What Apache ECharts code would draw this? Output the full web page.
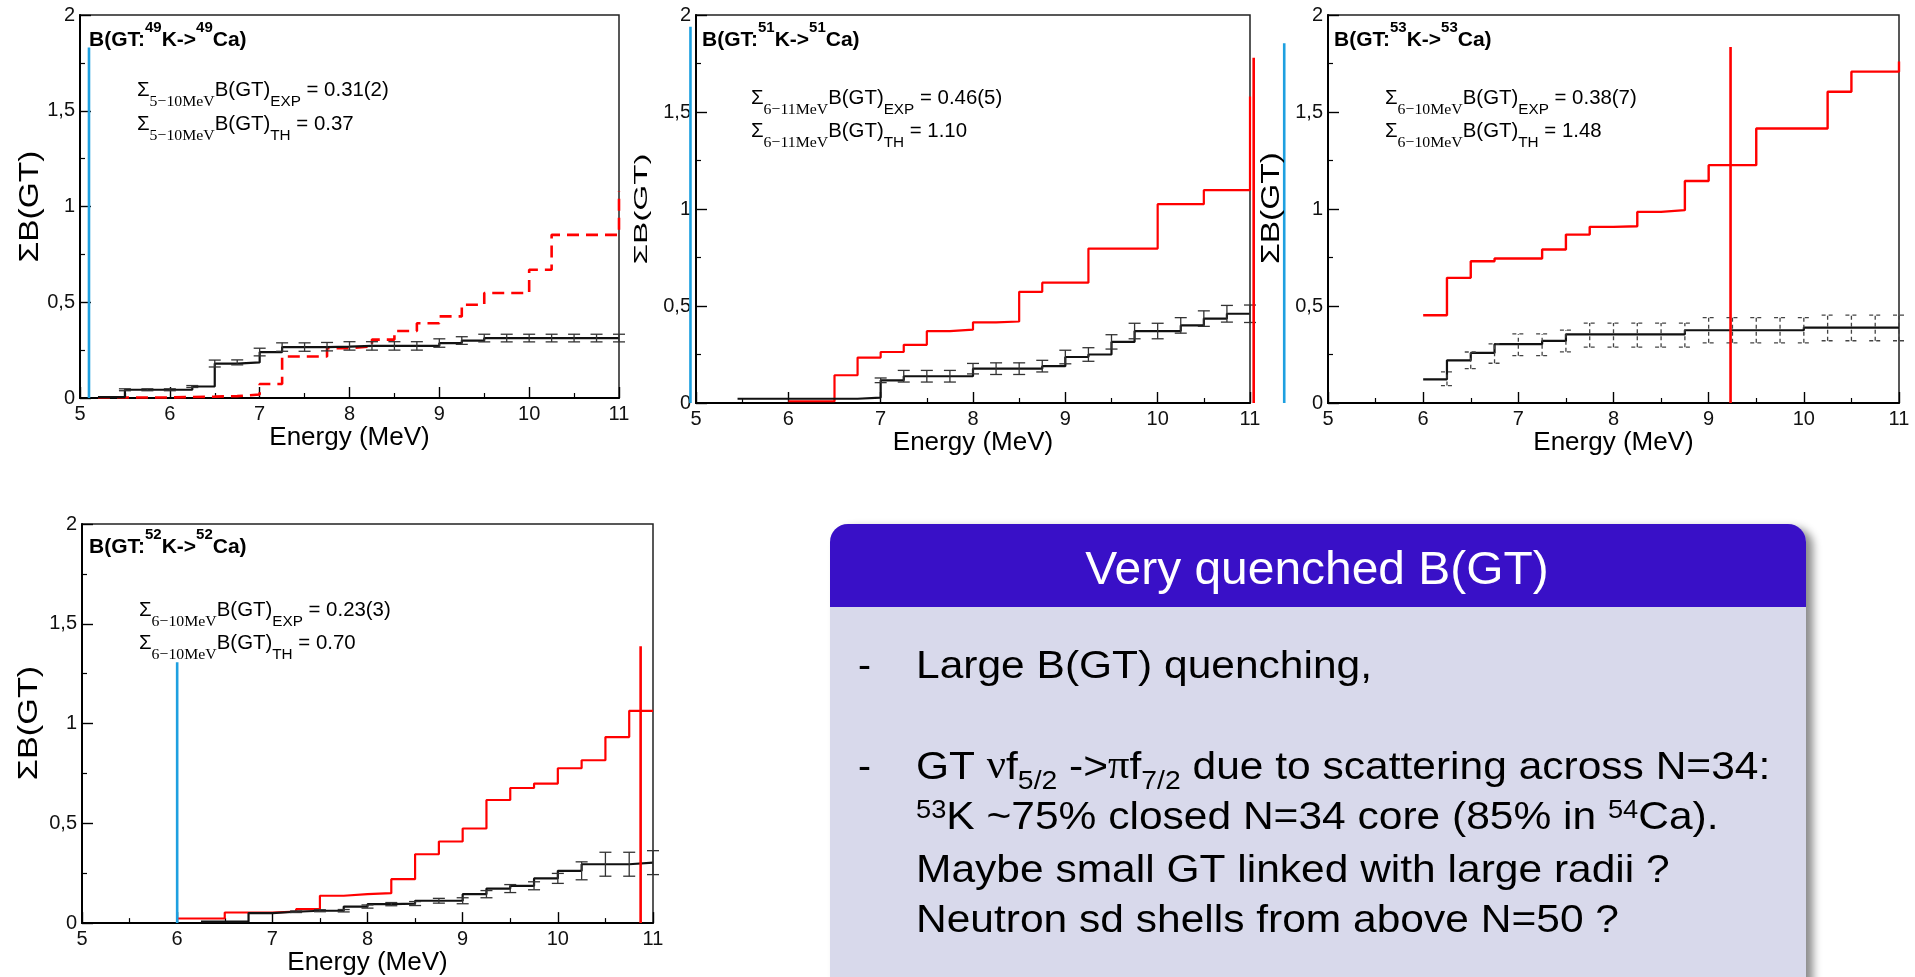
<!DOCTYPE html>
<html><head><meta charset="utf-8">
<script src="https://cdn.jsdelivr.net/npm/echarts@6/dist/echarts.min.js"></script>
<style>html,body{margin:0;padding:0;background:#fff;overflow:hidden}#c{width:1915px;height:977px}</style>
</head><body><div id="c"></div>
<script>
// ---------- data ----------
const yTickLabels = ['0', '0,5', '1', '1,5', '2'];

// 49K -> 49Ca
const p1E   = [5.2, 5.5, 5.75, 6.0, 6.25, 6.5, 6.75, 7.0, 7.25, 7.5, 7.75, 8.0, 8.25, 8.5, 8.75, 9.0, 9.25, 9.5, 9.75, 10.0, 10.25, 10.5, 10.75, 11.0];
const p1Exp = [0.005, 0.043, 0.043, 0.043, 0.06, 0.18, 0.186, 0.24, 0.266, 0.266, 0.268, 0.272, 0.272, 0.272, 0.272, 0.287, 0.30, 0.313, 0.313, 0.313, 0.313, 0.313, 0.313, 0.313];
const p1Err = [0, 0.005, 0.005, 0.005, 0.005, 0.018, 0.013, 0.02, 0.022, 0.022, 0.022, 0.022, 0.022, 0.022, 0.022, 0.022, 0.02, 0.02, 0.02, 0.02, 0.02, 0.02, 0.02, 0.02];
const p1Th  = [0.003, 0.003, 0.003, 0.005, 0.007, 0.01, 0.018, 0.073, 0.217, 0.217, 0.26, 0.27, 0.305, 0.35, 0.39, 0.426, 0.487, 0.548, 0.548, 0.67, 0.852, 0.852, 0.852, 1.08];

// 51K -> 51Ca
const p2E   = [5.45, 5.75, 6.0, 6.25, 6.5, 6.75, 7.0, 7.25, 7.5, 7.75, 8.0, 8.25, 8.5, 8.75, 9.0, 9.25, 9.5, 9.75, 10.0, 10.25, 10.5, 10.75, 11.0];
const p2Exp = [0.022, 0.022, 0.022, 0.022, 0.022, 0.028, 0.117, 0.138, 0.138, 0.138, 0.177, 0.177, 0.177, 0.19, 0.237, 0.25, 0.315, 0.371, 0.371, 0.40, 0.435, 0.46, 0.46];
const p2Err = [0, 0, 0, 0, 0, 0, 0.012, 0.03, 0.03, 0.03, 0.027, 0.03, 0.03, 0.03, 0.035, 0.035, 0.037, 0.04, 0.04, 0.04, 0.04, 0.043, 0.045];
const p2Th  = [null, null, 0.009, 0.009, 0.143, 0.234, 0.263, 0.30, 0.37, 0.378, 0.416, 0.42, 0.573, 0.62, 0.62, 0.796, 0.796, 0.796, 1.025, 1.025, 1.097, 1.097, 1.58];

// 53K -> 53Ca
const p3E   = [6.0, 6.25, 6.5, 6.75, 7.0, 7.25, 7.5, 7.75, 8.0, 8.25, 8.5, 8.75, 9.0, 9.25, 9.5, 9.75, 10.0, 10.25, 10.5, 10.75, 11.0];
const p3Exp = [0.122, 0.22, 0.258, 0.303, 0.303, 0.32, 0.354, 0.354, 0.354, 0.354, 0.354, 0.375, 0.375, 0.375, 0.375, 0.375, 0.389, 0.389, 0.389, 0.389, 0.389];
const p3Th  = [0.452, 0.645, 0.731, 0.745, 0.745, 0.791, 0.868, 0.908, 0.911, 0.985, 0.994, 1.144, 1.226, 1.226, 1.415, 1.415, 1.415, 1.604, 1.708, 1.708, 1.76];
const p3ErrE    = [6.25, 6.5, 6.75, 7.0, 7.25, 7.5, 7.75, 8.0, 8.25, 8.5, 8.75, 9.0, 9.25, 9.5, 9.75, 10.0, 10.25, 10.5, 10.75, 11.0];
const p3ErrMid  = [0.125, 0.22, 0.255, 0.30, 0.30, 0.32, 0.35, 0.35, 0.35, 0.35, 0.35, 0.375, 0.375, 0.375, 0.375, 0.375, 0.387, 0.387, 0.387, 0.387];
const p3ErrHalf = [0.035, 0.043, 0.05, 0.056, 0.056, 0.056, 0.062, 0.062, 0.062, 0.062, 0.062, 0.065, 0.065, 0.065, 0.065, 0.065, 0.066, 0.066, 0.066, 0.066];

// 52K -> 52Ca
const p4E   = [6.0, 6.25, 6.5, 6.75, 7.0, 7.25, 7.5, 7.75, 8.0, 8.25, 8.5, 8.75, 9.0, 9.25, 9.5, 9.75, 10.0, 10.25, 10.5, 10.75, 11.0];
const p4Exp = [null, 0.007, 0.007, 0.05, 0.057, 0.062, 0.062, 0.083, 0.095, 0.098, 0.112, 0.112, 0.145, 0.173, 0.187, 0.224, 0.262, 0.295, 0.295, 0.303, 0.303];
const p4Th  = [0.023, 0.023, 0.053, 0.053, 0.058, 0.07, 0.137, 0.145, 0.15, 0.22, 0.345, 0.409, 0.474, 0.617, 0.677, 0.699, 0.776, 0.816, 0.932, 1.064, 1.064];
const p4ErrE    = [7.25, 7.5, 7.75, 8.0, 8.25, 8.5, 8.75, 9.0, 9.25, 9.5, 9.75, 10.0, 10.25, 10.5, 10.75, 11.0];
const p4ErrMid  = [0.057, 0.062, 0.062, 0.083, 0.095, 0.098, 0.112, 0.112, 0.145, 0.173, 0.187, 0.224, 0.262, 0.295, 0.295, 0.303];
const p4ErrHalf = [0.004, 0.005, 0.006, 0.008, 0.008, 0.01, 0.012, 0.015, 0.018, 0.02, 0.02, 0.025, 0.045, 0.06, 0.06, 0.06];

// vertical marker lines (panel order 49, 51, 53, 52)
const blueX   = [5.1, 4.94, 4.54, 6.0];
const blueTop = [1.83, 1.94, 1.855, 1.307];
const redX    = [null, 11.04, 9.23, 10.87];
const redTop  = [null, 1.78, 1.835, 1.387];

// ---------- build ----------
const FONT = 'Liberation Sans, Arial, sans-serif';
const SERIF = 'Liberation Serif, Times New Roman, serif';
const grids = [
  {left: 80, top: 15, width: 539, height: 383},
  {left: 696, top: 15, width: 554, height: 388},
  {left: 1328, top: 15, width: 571, height: 388},
  {left: 82, top: 524, width: 571, height: 400}
];
// y-axis name placement: [centerX, centerY, fontSize, stretch]
const yNames = [[30.5, 206.5, 27, 1.24], [642, 209, 19, 1.75], [1272.5, 208, 25, 1.34], [29.5, 723, 27, 1.27]];

function pairs(E, V) { return E.map((e, i) => [e, V[i]]).filter(d => d[1] != null); }
function bars(E, M, H) { return E.map((e, i) => [e, M[i] - H[i], M[i] + H[i], H[i]]).filter(d => d[3] > 0); }

function errRender(dashed) {
  return function (params, api) {
    const x = api.value(0), lo = api.value(1), hi = api.value(2);
    const a = api.coord([x, lo]), b = api.coord([x, hi]);
    const w = 6;
    const st = {stroke: dashed ? '#444' : '#333', lineWidth: 1.3, lineDash: dashed ? [4, 3] : null, fill: null};
    return {type: 'group', children: [
      {type: 'line', shape: {x1: a[0], y1: a[1], x2: b[0], y2: b[1]}, style: st},
      {type: 'line', shape: {x1: a[0] - w, y1: a[1], x2: a[0] + w, y2: a[1]}, style: st},
      {type: 'line', shape: {x1: b[0] - w, y1: b[1], x2: b[0] + w, y2: b[1]}, style: st}
    ]};
  };
}
function vlineRender(color) {
  return function (params, api) {
    const x = api.value(0), top = api.value(1);
    const a = api.coord([x, 0]), b = api.coord([x, top]);
    return {type: 'line', shape: {x1: a[0], y1: a[1], x2: b[0], y2: b[1]},
      style: {stroke: color, lineWidth: 2.6, fill: null}};
  };
}

const xAxes = grids.map((g, i) => ({
  type: 'value', gridIndex: i, min: 5, max: 11, interval: 1,
  axisLine: {show: true, onZero: false, lineStyle: {color: '#000', width: 2}},
  axisTick: {show: true, inside: true, length: 11, lineStyle: {color: '#000', width: 1.4}},
  minorTick: {show: true, splitNumber: 2, length: 5, lineStyle: {color: '#000', width: 1.2}},
  splitLine: {show: false},
  axisLabel: {fontSize: 20, color: '#111', margin: 6, fontFamily: FONT},
  name: 'Energy (MeV)', nameLocation: 'middle', nameGap: 25,
  nameTextStyle: {fontSize: 26, color: '#000', fontFamily: FONT}
}));
const yAxes = grids.map((g, i) => ({
  type: 'value', gridIndex: i, min: 0, max: 2, interval: 0.5,
  axisLine: {show: true, onZero: false, lineStyle: {color: '#000', width: 2}},
  axisTick: {show: true, inside: true, length: 11, lineStyle: {color: '#000', width: 1.4}},
  minorTick: {show: true, splitNumber: 2, length: 5, lineStyle: {color: '#000', width: 1.2}},
  splitLine: {show: false},
  axisLabel: {fontSize: 20, color: '#111', margin: 5, fontFamily: FONT,
    formatter: v => yTickLabels[Math.round(v / 0.5)]}
}));

const series = [];
function stepLine(i, data, color, dashed, w) {
  series.push({type: 'line', xAxisIndex: i, yAxisIndex: i, data: data, step: 'end',
    symbol: 'none', silent: true, animation: false, z: 3,
    lineStyle: {color: color, width: w, type: dashed ? [12, 7] : 'solid', cap: 'butt'}});
}
function errSeries(i, data, dashed) {
  series.push({type: 'custom', xAxisIndex: i, yAxisIndex: i, coordinateSystem: 'cartesian2d',
    data: data, encode: {x: 0, y: [1, 2]}, renderItem: errRender(dashed), silent: true,
    animation: false, z: 4, clip: false});
}
function vline(i, x, top, color) {
  if (x == null) return;
  series.push({type: 'custom', xAxisIndex: i, yAxisIndex: i, coordinateSystem: 'cartesian2d',
    data: [[x, top]], encode: {x: 0, y: 1}, renderItem: vlineRender(color),
    silent: true, animation: false, clip: false, z: 6});
}

stepLine(0, pairs(p1E, p1Th), '#FF0000', true, 2.6);
stepLine(0, pairs(p1E, p1Exp), '#111', false, 2.2);
errSeries(0, bars(p1E, p1Exp, p1Err), false);

stepLine(1, pairs(p2E, p2Th), '#FF0000', false, 2.2);
stepLine(1, pairs(p2E, p2Exp), '#111', false, 2.2);
errSeries(1, bars(p2E, p2Exp, p2Err), false);

stepLine(2, pairs(p3E, p3Th), '#FF0000', false, 2.4);
stepLine(2, pairs(p3E, p3Exp), '#111', false, 2.2);
errSeries(2, bars(p3ErrE, p3ErrMid, p3ErrHalf), true);

stepLine(3, pairs(p4E, p4Th), '#FF0000', false, 2.2);
stepLine(3, pairs(p4E, p4Exp), '#111', false, 2.2);
errSeries(3, bars(p4ErrE, p4ErrMid, p4ErrHalf), false);

for (let i = 0; i < 4; i++) { vline(i, blueX[i], blueTop[i], '#1EA0E0'); vline(i, redX[i], redTop[i], '#FF0000'); }

// ---------- texts ----------
const titleRich = {
  m: {fontSize: 21, fontWeight: 'bold', fontFamily: FONT, fill: '#000', lineHeight: 30, verticalAlign: 'middle'},
  s: {fontSize: 15, fontWeight: 'bold', fontFamily: FONT, fill: '#000', lineHeight: 30, verticalAlign: 'middle', padding: [0, 0, 24, 0]}
};
const annRich = {
  m: {fontSize: 20, fontFamily: FONT, fill: '#000', lineHeight: 30, verticalAlign: 'middle'},
  t: {fontSize: 15.5, fontFamily: SERIF, fill: '#000', lineHeight: 30, verticalAlign: 'middle', padding: [23, 0, 0, 0]},
  e: {fontSize: 15, fontFamily: FONT, fill: '#000', lineHeight: 30, verticalAlign: 'middle', padding: [23, 0, 0, 0]}
};
function rtext(x, y, text, rich, extra) {
  return Object.assign({type: 'text', x: x, y: y, z: 20, silent: true,
    style: {text: text, rich: rich, x: 0, y: 0, align: 'left', verticalAlign: 'middle'}}, extra || {});
}
const titles = [
  [89, 40, '49'], [702, 40, '51'], [1334, 40, '53'], [89, 547, '52']
];
const anns = [
  [137, 90, 124, '5−10MeV', '0.31(2)', '0.37'],
  [751, 98, 131, '6−11MeV', '0.46(5)', '1.10'],
  [1385, 98, 131, '6−10MeV', '0.38(7)', '1.48'],
  [139, 610, 643, '6−10MeV', '0.23(3)', '0.70']
];
const elements = [];
titles.forEach(t => elements.push(rtext(t[0], t[1], '{m|B(GT:}{s|' + t[2] + '}{m|K->}{s|' + t[2] + '}{m|Ca)}', titleRich)));
anns.forEach(a => {
  elements.push(rtext(a[0], a[1], '{m|Σ}{t|' + a[3] + '}{m|B(GT)}{e|EXP}{m| = ' + a[4] + '}', annRich, {scaleX: 1.02}));
  elements.push(rtext(a[0], a[2], '{m|Σ}{t|' + a[3] + '}{m|B(GT)}{e|TH}{m| = ' + a[5] + '}', annRich, {scaleX: 1.02}));
});
yNames.forEach(n => elements.push({type: 'text', x: n[0], y: n[1], rotation: Math.PI / 2, scaleX: n[3], z: 20, silent: true,
  style: {text: 'ΣB(GT)', x: 0, y: 0, align: 'center', verticalAlign: 'middle', fontSize: n[2], fontFamily: FONT, fill: '#000'}}));

// text box
const BX = 830, BY = 524, BW = 976;
elements.push({type: 'rect', z: 10, silent: true, shape: {x: BX, y: BY, width: BW, height: 480, r: [18, 18, 0, 0]},
  style: {fill: '#D8D9EB', shadowBlur: 8, shadowOffsetX: 7, shadowOffsetY: 4, shadowColor: 'rgba(0,0,0,0.45)'}});
elements.push({type: 'rect', z: 11, silent: true, shape: {x: BX, y: BY, width: BW, height: 83, r: [18, 18, 0, 0]},
  style: {fill: '#3910C7'}});
elements.push({type: 'text', z: 12, silent: true, x: 1317, y: 571, scaleX: 1.02,
  style: {text: 'Very quenched B(GT)', x: 0, y: 0, align: 'center', verticalAlign: 'middle',
    fontSize: 47, fontFamily: FONT, fill: '#fff'}});

const bodyRich = {
  m: {fontSize: 39, fontFamily: FONT, fill: '#000', lineHeight: 50, verticalAlign: 'middle'},
  g: {fontSize: 39, fontFamily: SERIF, fill: '#000', lineHeight: 50, verticalAlign: 'middle'},
  b: {fontSize: 26, fontFamily: FONT, fill: '#000', lineHeight: 50, verticalAlign: 'middle', padding: [27, 0, 0, 0]},
  p: {fontSize: 25, fontFamily: FONT, fill: '#000', lineHeight: 50, verticalAlign: 'middle', padding: [0, 0, 13, 0]}
};
const bodyLines = [
  [667, '{m|Large B(GT) quenching,}'],
  [768, '{m|GT }{g|ν}{m|f}{b|5/2}{m| ->}{g|π}{m|f}{b|7/2}{m| due to scattering across N=34:}'],
  [818, '{p|53}{m|K ~75% closed N=34 core (85% in }{p|54}{m|Ca).}'],
  [871, '{m|Maybe small GT linked with large radii ?}'],
  [921, '{m|Neutron sd shells from above N=50 ?}']
];
bodyLines.forEach(l => elements.push(rtext(916, l[0], l[1], bodyRich, {z: 12, scaleX: 1.09})));
[667, 768].forEach(y => elements.push(rtext(858, y, '{m|-}', bodyRich, {z: 12})));

const chart = echarts.init(document.getElementById('c'), null, {renderer: 'canvas'});
chart.setOption({
  animation: false,
  backgroundColor: '#fff',
  textStyle: {fontFamily: FONT},
  grid: grids.map(g => Object.assign({show: true, borderColor: '#222', borderWidth: 1.5, backgroundColor: 'transparent', containLabel: false}, g)),
  xAxis: xAxes,
  yAxis: yAxes,
  series: series,
  graphic: {elements: elements}
});
</script>
</body></html>
